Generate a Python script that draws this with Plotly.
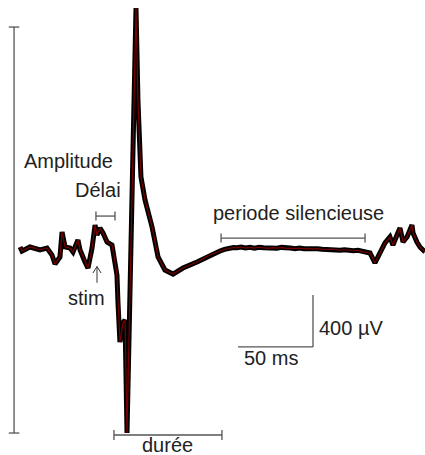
import plotly.graph_objects as go

# EMG trace: time (ms, 0 = stimulus) and amplitude (µV)
time_ms = [-51.3, -50, -44.7, -41.3, -38, -33.3, -30, -28, -24.7, -23.3, -21.3, -18, -16,
           -12.7, -11.3, -8, -6, -3.3, -1.3, 0, 2, 4, 6.7, 10, 11.3, 13.3, 14, 15.3, 17.3,
           18.7, 20, 26, 27.3, 29.3, 32, 36.7, 40.7, 45.3, 50.7, 57.3, 66.7, 75.3, 82,
           85, 88, 91, 93.3, 96, 99, 102, 105, 108, 111, 114, 117, 120, 123, 126, 129,
           132, 135, 138, 141, 144, 147, 150, 153, 156, 159, 162, 165, 168, 171, 174,
           177.3, 182, 185.3, 188.7, 192, 195.3, 197.3, 200, 202, 204,
           206.7, 210, 210.7, 213.3, 215.3, 218.7]
amp_uv = [0, -31, 0, -8, -23, -8, -62, -131, -77, 115, 0, -8, -38,
          54, -23, -115, -162, -8, 169, 92, 146, 108, 38, 15, -62, -215, -431, -731, -585,
          -562, -1431, 1838, 1131, 538, 362, 154, -77, -177, -208, -162, -115, -62, -31,
          -18, -10, -4, -6, 0, -8, -3, -9, -2, -6, -10, -5, -9, -3, -10, -8,
          -13, -8, -14, -11, -17, -13, -18, -21, -17, -22, -25, -21, -26, -29, -26,
          -38, -46, -123, -46, 31, 77, 15, 92, 146, 38,
          77, 169, 108, 38, 0, -38]

# annotation bars (data units)
amplitude_bar = {"t": -55.3, "v0": -1431, "v1": 1692}
duree_bar = {"v": -1446, "t0": 11.3, "t1": 83.3}
delai_bar = {"v": 238, "t0": -0.7, "t1": 12}
silent_bar = {"v": 69, "t0": 82.7, "t1": 178.7}
scale_t = [94, 144]      # 50 ms
scale_v = [-769, -369]   # 400 µV

fig = go.Figure()
fig.add_trace(go.Scatter(x=time_ms, y=amp_uv, mode="lines",
                         line=dict(color="black", width=5), hoverinfo="skip"))
fig.add_trace(go.Scatter(x=time_ms, y=amp_uv, mode="lines",
                         line=dict(color="#7a0000", width=1.2), hoverinfo="skip"))

bar_col = "#555555"
lw = 1.3
shapes = []
def seg(x0, y0, x1, y1, col=bar_col, w=lw):
    shapes.append(dict(type="line", x0=x0, y0=y0, x1=x1, y1=y1, xref="x", yref="y",
                       line=dict(color=col, width=w)))

# amplitude
a = amplitude_bar
seg(a["t"], a["v0"], a["t"], a["v1"])
seg(a["t"] - 3.5, a["v0"], a["t"] + 3.5, a["v0"])
seg(a["t"] - 3.5, a["v1"], a["t"] + 3.5, a["v1"])
# horizontal bars with end ticks
for b, tk in [(duree_bar, 38), (delai_bar, 35), (silent_bar, 35)]:
    seg(b["t0"], b["v"], b["t1"], b["v"])
    seg(b["t0"], b["v"] - tk, b["t0"], b["v"] + tk)
    seg(b["t1"], b["v"] - tk, b["t1"], b["v"] + tk)
# scale bar
seg(scale_t[0], scale_v[0], scale_t[1], scale_v[0])
seg(scale_t[1], scale_v[0], scale_t[1], scale_v[1])
# stim arrow
seg(0, -275, 0, -150, col="#333333", w=1)
seg(-2.7, -200, 0, -150, col="#333333", w=1)
seg(2.7, -200, 0, -150, col="#333333", w=1)

txt = "#222222"
fs = 20
labels = [
    ("Amplitude", -19.3, 662),
    ("Délai", 0.7, 438),
    ("periode silencieuse", 134, 262),
    ("stim", -7.3, -392),
    ("durée", 46.7, -1523),
    ("400 µV", 169.3, -623),
    ("50 ms", 116, -854),
]
annotations = [dict(text=t, x=x, y=y, xref="x", yref="y", showarrow=False,
                    xanchor="center", yanchor="middle",
                    font=dict(family="Liberation Sans, Arial", size=fs, color=txt))
               for t, x, y in labels]

fig.update_layout(
    width=425, height=455,
    margin=dict(l=0, r=0, t=0, b=0),
    paper_bgcolor="white", plot_bgcolor="white",
    showlegend=False,
    shapes=shapes, annotations=annotations,
    xaxis=dict(range=[-64.67, 218.67], visible=False, fixedrange=True),
    yaxis=dict(range=[-1600, 1900], visible=False, fixedrange=True),
)
fig.write_html("out.html", config={"displayModeBar": False},
               post_script="document.body.style.margin='0';document.body.style.overflow='hidden';")
